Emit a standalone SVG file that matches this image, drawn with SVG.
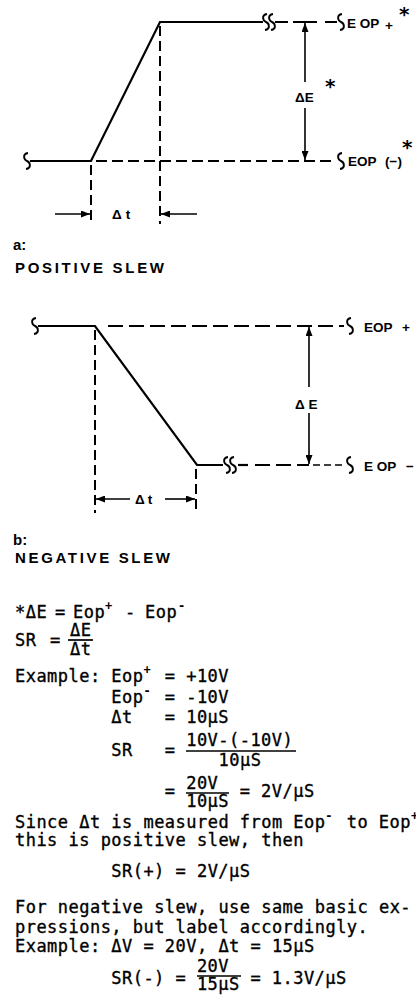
<svg xmlns="http://www.w3.org/2000/svg" xmlns:xlink="http://www.w3.org/1999/xlink" width="416" height="1000" viewBox="0 0 416 1000">
<style>
.ln{fill:none;stroke:#000;stroke-width:2.2;stroke-linecap:butt}
.ds{fill:none;stroke:#000;stroke-width:2;stroke-dasharray:11 5}
.dsb{fill:none;stroke:#000;stroke-width:2;stroke-dasharray:15 6}
.vd{fill:none;stroke:#000;stroke-width:2;stroke-dasharray:10 5}
.ar{fill:none;stroke:#000;stroke-width:1.6;marker-end:url(#ah)}
.brk{fill:none;stroke:#000;stroke-width:1.9}
.lb{font-family:"Liberation Sans",Arial,sans-serif;font-weight:bold;font-size:13.5px;fill:#000}
.ast{font-family:"DejaVu Sans",sans-serif;font-weight:bold;font-size:20px;fill:#000}
.ttl{font-family:"Liberation Sans",Arial,sans-serif;font-weight:bold;font-size:15px;fill:#000}
.m{font-family:"DejaVu Sans Mono","Liberation Mono",monospace;font-size:17px;letter-spacing:0.47px;fill:#000;stroke:#000;stroke-width:0.35}
.sp{font-family:"DejaVu Sans Mono","Liberation Mono",monospace;font-size:12px;font-weight:bold;fill:#000}
.bar{stroke:#000;stroke-width:1.7}
</style>
<defs>
<marker id="ah" markerUnits="userSpaceOnUse" markerWidth="9" markerHeight="7" refX="9" refY="3.5" orient="auto">
<path d="M0,0 L9,3.5 L0,7 z" fill="#000"/>
</marker>
<path id="brk" d="M1,-8 C-5,-7 -3,-1 0,0 C3,1 5,7 -1,8"/>
</defs>

<g id="diagram-a">
<g id="a-waveform">
<use xlink:href="#brk" x="27" y="161" class="brk"/>
<path class="ln" d="M30,161 L91,161 L160,22 L263,22"/>
<use xlink:href="#brk" x="266" y="22" class="brk"/>
<use xlink:href="#brk" x="272" y="22" class="brk"/>
<path class="ln" d="M275,22 H288 M293,22 H317 M325,22 H337"/>
<use xlink:href="#brk" x="341" y="22" class="brk"/>
<path class="ds" d="M96,161 H336"/>
<use xlink:href="#brk" x="341" y="161" class="brk"/>
<path class="vd" d="M160,26 V224 M91,165 V224"/>
</g>
<g id="a-labels">
<text class="lb" x="347" y="28">E OP</text>
<text class="lb" x="385" y="30" font-size="11">+</text>
<text class="ast" x="399" y="21">*</text>
<text class="lb" x="348" y="166">EOP</text>
<text class="lb" x="385" y="166" font-size="11">(−)</text>
<text class="ast" x="402" y="154">*</text>
<text class="lb" x="295" y="102" font-size="14">ΔE</text>
<text class="ast" x="325" y="93">*</text>
<text class="lb" x="112" y="219" font-size="14" letter-spacing="4">Δt</text>
</g>
<g id="a-title">
<text class="ttl" x="13" y="250">a:</text>
<text class="ttl" x="15" y="273" textLength="149" lengthAdjust="spacing">POSITIVE SLEW</text>
</g>
</g>

<g id="diagram-b">
<g id="b-waveform">
<use xlink:href="#brk" x="35" y="326" class="brk"/>
<path class="ln" d="M38,326 L95,326 L197,465 L223,465"/>
<use xlink:href="#brk" x="227" y="465" class="brk"/>
<use xlink:href="#brk" x="233" y="465" class="brk"/>
<path class="ln" d="M238,465 H248"/>
<path class="dsb" d="M255,465 H309"/>
<path fill="none" stroke="#000" stroke-width="1.6" stroke-dasharray="7 4" d="M313,465 H343"/>
<use xlink:href="#brk" x="350" y="465" class="brk"/>
<path class="dsb" d="M108,326 H344"/>
<use xlink:href="#brk" x="350" y="326" class="brk"/>
<path class="vd" d="M95,330 V513 M196,469 V513"/>
</g>
<g id="b-labels">
<text class="lb" x="364" y="332">EOP</text>
<text class="lb" x="402" y="332">+</text>
<text class="lb" x="364" y="471">E OP</text>
<text class="lb" x="406" y="471">−</text>
<text class="lb" x="295" y="409" font-size="14">Δ E</text>
<text class="lb" x="135" y="504" font-size="14" letter-spacing="3">Δt</text>
</g>
<g id="b-title">
<text class="ttl" x="13" y="545">b:</text>
<text class="ttl" x="15" y="563" textLength="155" lengthAdjust="spacing">NEGATIVE SLEW</text>
</g>
</g>

<g id="connectors">
<path class="ar" d="M305,82 V23"/>
<path class="ar" d="M305,108 V160"/>
<path class="ar" d="M55,214 H90"/>
<path class="ar" d="M197,214 H161"/>
<path class="ar" d="M309,387 V327"/>
<path class="ar" d="M309,413 V464"/>
<path class="ar" d="M130,499 H96"/>
<path class="ar" d="M165,499 H195"/>
</g>

<g id="notes">
<text class="m" x="15" y="618">*ΔE</text>
<text class="m" x="55" y="618">=</text>
<text class="m" x="73" y="618">Eop</text>
<text class="sp" x="105" y="610">+</text>
<text class="m" x="125" y="618">-</text>
<text class="m" x="145" y="618">Eop</text>
<text class="sp" x="178" y="610">-</text>

<text class="m" x="15" y="646">SR</text>
<text class="m" x="50" y="646">=</text>
<text class="m" x="70" y="636">ΔE</text>
<line class="bar" x1="68" y1="640" x2="93" y2="640"/>
<text class="m" x="70" y="655">Δt</text>

<text class="m" x="15" y="682">Example:</text>
<text class="m" x="111.3" y="682">Eop</text>
<text class="sp" x="143.4" y="674">+</text>
<text class="m" x="164.8" y="682">=</text>
<text class="m" x="186.2" y="682">+10V</text>

<text class="m" x="111.3" y="703">Eop</text>
<text class="sp" x="143.4" y="695">-</text>
<text class="m" x="164.8" y="703">=</text>
<text class="m" x="186.2" y="703">-10V</text>

<text class="m" x="111.3" y="723">Δt</text>
<text class="m" x="164.8" y="723">=</text>
<text class="m" x="186.2" y="723">10μS</text>

<text class="m" x="111.3" y="756">SR</text>
<text class="m" x="164.8" y="756">=</text>
<text class="m" x="186.2" y="746">10V-(-10V)</text>
<line class="bar" x1="186" y1="751" x2="296" y2="751"/>
<text class="m" x="240" y="766" text-anchor="middle">10μS</text>

<text class="m" x="164.8" y="797">=</text>
<text class="m" x="186.2" y="789">20V</text>
<line class="bar" x1="186" y1="793" x2="229" y2="793"/>
<text class="m" x="186.2" y="807">10μS</text>
<text class="m" x="239.7" y="797">=</text>
<text class="m" x="261.1" y="797">2V/μS</text>

<text class="m" x="15" y="828">Since Δt is measured from Eop</text>
<text class="sp" x="325.3" y="820">-</text>
<text class="m" x="346.7" y="828">to Eop</text>
<text class="sp" x="410.9" y="820">+</text>
<text class="m" x="15" y="846">this is positive slew, then</text>
<text class="m" x="111.3" y="877">SR(+) = 2V/μS</text>

<text class="m" x="15" y="913">For negative slew, use same basic ex-</text>
<text class="m" x="15" y="933">pressions, but label accordingly.</text>
<text class="m" x="15" y="952">Example: ΔV = 20V, Δt = 15μS</text>
<text class="m" x="111.3" y="984">SR(-) =</text>
<text class="m" x="196.9" y="972">20V</text>
<line class="bar" x1="197" y1="976" x2="241" y2="976"/>
<text class="m" x="196.9" y="990">15μS</text>
<text class="m" x="250.4" y="984">=</text>
<text class="m" x="271.8" y="984">1.3V/μS</text>
</g>
</svg>
